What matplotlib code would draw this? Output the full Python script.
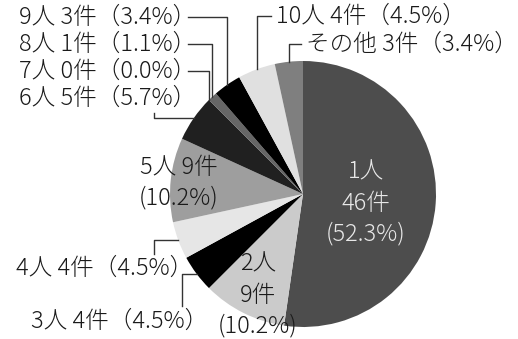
import numpy as np
import matplotlib
matplotlib.use("Agg")
import matplotlib.pyplot as plt

plt.rcParams['font.family'] = ['Noto Sans CJK JP', 'DejaVu Sans']

categories = ["1人", "2人", "3人", "4人", "5人", "6人", "7人", "8人", "9人", "10人", "その他"]
counts = [46, 9, 4, 4, 9, 5, 0, 1, 3, 4, 3]
percents = ["52.3", "10.2", "4.5", "4.5", "10.2", "5.7", "0.0", "1.1", "3.4", "4.5", "3.4"]
colors = ["#4d4d4d", "#cbcbcb", "#000000", "#e6e6e6", "#9e9e9e", "#202020",
          "#404040", "#666666", "#000000", "#e0e0e0", "#7f7f7f"]

W, H = 518, 339
fig = plt.figure(figsize=(W / 100, H / 100), dpi=100)
ax = fig.add_axes([0, 0, 1, 1])

cx, cy_pix, R = 303, 194, 133
cy = H - cy_pix
ax.pie(counts, colors=colors, startangle=90, counterclock=False,
       center=(cx, cy), radius=R, wedgeprops=dict(linewidth=0))
ax.set_xlim(0, W)
ax.set_ylim(0, H)
ax.set_aspect('equal')
ax.axis('off')

total = sum(counts)
cum = np.cumsum([0] + counts)
def anchor(i):
    mid = (cum[i] + cum[i + 1]) / 2 / total * 2 * np.pi
    return cx + R * np.sin(mid), cy + R * np.cos(mid)

fs = 17
fw = 'light'
tc = "#1a1a1a"
lc = "#333333"
ls = 1.3
def P(y):
    return H - y

# inside labels
ax.text(366, P(203), f"{categories[0]}\n{counts[0]}件\n({percents[0]}%)", ha='center', va='center',
        fontsize=fs, fontweight=fw, color="#e8e8e8", linespacing=ls)
ax.text(258, P(295), f"{categories[1]}\n{counts[1]}件\n({percents[1]}%)", ha='center', va='center',
        fontsize=fs, fontweight=fw, color=tc, linespacing=ls)
ax.text(179, P(183), f"{categories[4]} {counts[4]}件\n({percents[4]}%)", ha='center', va='center',
        fontsize=fs, fontweight=fw, color=tc, linespacing=ls)

def lab(i):
    return f"{categories[i]} {counts[i]}件（{percents[i]}%）"

# top-left labels with vertical-then-horizontal leaders
for i, ty in [(8, 17), (7, 44), (6, 71)]:
    ax.text(196, P(ty), lab(i), ha='right', va='center', fontsize=fs, fontweight=fw, color=tc)
    axp, ayp = anchor(i)
    ax.plot([axp, axp, 188], [ayp, P(ty), P(ty)], color=lc, lw=1)

# 6人
ax.text(196, P(98), lab(5), ha='right', va='center', fontsize=fs, fontweight=fw, color=tc)
axp, ayp = anchor(5)
ax.plot([axp, 154, 154], [ayp, ayp, P(113)], color=lc, lw=1)

# 4人
ax.text(193, P(268), lab(3), ha='right', va='center', fontsize=fs, fontweight=fw, color=tc)
axp, ayp = anchor(3)
ax.plot([axp, 154, 154], [ayp, ayp, P(254)], color=lc, lw=1)

# 3人
ax.text(208, P(321), lab(2), ha='right', va='center', fontsize=fs, fontweight=fw, color=tc)
axp, ayp = anchor(2)
ax.plot([axp, 182, 182], [ayp, ayp, P(306)], color=lc, lw=1)

# top-right labels
for i, tx, ty in [(9, 276, 16), (10, 306, 44)]:
    ax.text(tx, P(ty), lab(i), ha='left', va='center', fontsize=fs, fontweight=fw, color=tc)
    axp, ayp = anchor(i)
    ax.plot([axp, axp, tx - 5], [ayp, P(ty), P(ty)], color=lc, lw=1)

fig.savefig("out.png", dpi=100)
